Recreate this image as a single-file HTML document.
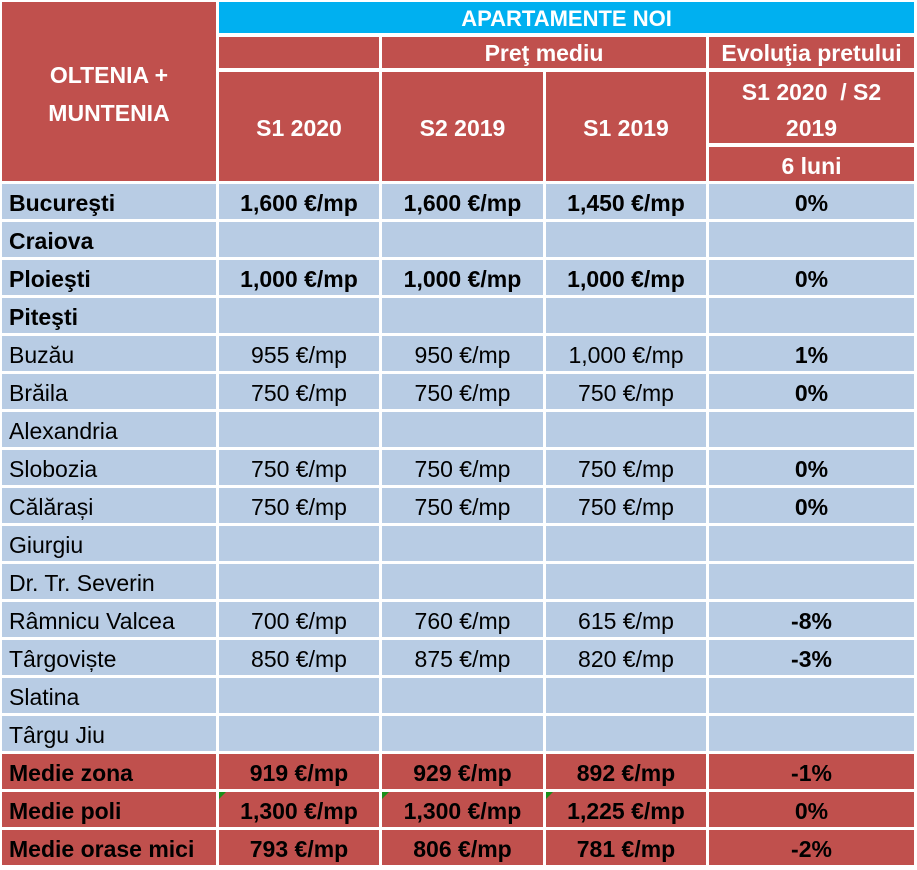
<!DOCTYPE html>
<html><head><meta charset="utf-8"><style>
body{margin:0;width:917px;height:870px;background:#fff;position:relative;overflow:hidden;font-family:"Liberation Sans",sans-serif;}
.c{position:absolute;display:flex;align-items:center;justify-content:center;box-sizing:border-box;font-size:23px;color:#000;white-space:nowrap;padding-top:4px;}
.r{background:#C0504D;color:#fff;font-weight:bold;}
.b{background:#00B0F0;color:#fff;font-weight:bold;}
.l{background:#B8CCE4;}
.L{justify-content:flex-start;padding-left:7px;}
.bd{font-weight:bold;}
.rr{background:#C0504D;color:#000;font-weight:bold;}
.tri{position:absolute;left:0;top:0;width:0;height:0;border-top:7px solid #1a8f1a;border-right:7px solid transparent;}
</style></head><body>
<div class="c r" style="left:2px;top:2px;width:214px;height:179px;text-align:center;line-height:38px;white-space:normal">OLTENIA +<br>MUNTENIA</div>
<div class="c b" style="left:219px;top:2px;width:695px;height:31px;font-size:22px;padding-top:2px">APARTAMENTE NOI</div>
<div class="c r" style="left:219px;top:37px;width:160px;height:31px"></div>
<div class="c r" style="left:382px;top:37px;width:324px;height:31px;padding-top:2px">Preţ mediu</div>
<div class="c r" style="left:709px;top:37px;width:205px;height:31px;padding-top:2px">Evoluţia pretului</div>
<div class="c r" style="left:219px;top:72px;width:160px;height:109px">S1 2020</div>
<div class="c r" style="left:382px;top:72px;width:161px;height:109px">S2 2019</div>
<div class="c r" style="left:546px;top:72px;width:160px;height:109px">S1 2019</div>
<div class="c r" style="left:709px;top:72px;width:205px;height:71px;white-space:normal;text-align:center;line-height:36px">S1 2020&nbsp; / S2<br>2019</div>
<div class="c r" style="left:709px;top:147px;width:205px;height:34px">6 luni</div>
<div id="rows"></div>
<script>
var d=[
["Bucureşti","1,600 €/mp","1,600 €/mp","1,450 €/mp","0%",1],
["Craiova","","","","",1],
["Ploieşti","1,000 €/mp","1,000 €/mp","1,000 €/mp","0%",1],
["Piteşti","","","","",1],
["Buzău","955 €/mp","950 €/mp","1,000 €/mp","1%",0],
["Brăila","750 €/mp","750 €/mp","750 €/mp","0%",0],
["Alexandria","","","","",0],
["Slobozia","750 €/mp","750 €/mp","750 €/mp","0%",0],
["Călărași","750 €/mp","750 €/mp","750 €/mp","0%",0],
["Giurgiu","","","","",0],
["Dr. Tr. Severin","","","","",0],
["Râmnicu Valcea","700 €/mp","760 €/mp","615 €/mp","-8%",0],
["Târgoviște","850 €/mp","875 €/mp","820 €/mp","-3%",0],
["Slatina","","","","",0],
["Târgu Jiu","","","","",0],
["Medie zona","919 €/mp","929 €/mp","892 €/mp","-1%",2],
["Medie poli","1,300 €/mp","1,300 €/mp","1,225 €/mp","0%",3],
["Medie orase mici","793 €/mp","806 €/mp","781 €/mp","-2%",2]];
var X=[[2,214],[219,160],[382,161],[546,160],[709,205]];
var h="";
d.forEach(function(r,i){
 var y=184+i*38;
 for(var j=0;j<5;j++){
  var cls="c "+(r[5]>=2?"rr":"l")+(j==0?" L":"")+((r[5]==1||j==4)?" bd":"");
  var tri=(r[5]==3&&j>0&&j<4)?'<span class="tri"></span>':'';
  h+='<div class="'+cls+'" style="left:'+X[j][0]+'px;top:'+y+'px;width:'+X[j][1]+'px;height:35px">'+tri+r[j]+'</div>';
 }
});
document.getElementById("rows").innerHTML=h;
</script>
</body></html>
